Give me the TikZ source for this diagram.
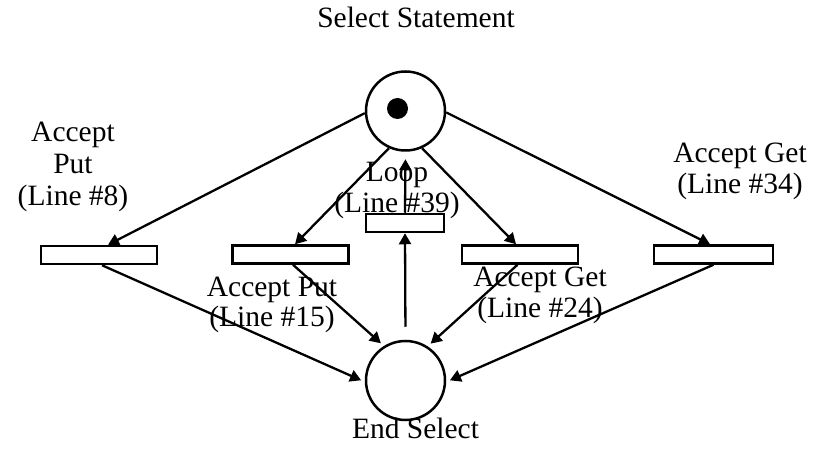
\documentclass[tikz,border=0pt]{standalone}
\usepackage{fontspec}
\setmainfont{Liberation Serif}
\usetikzlibrary{arrows.meta}
\begin{document}
\begin{tikzpicture}[x=1pt,y=-1pt,
  place/.style={draw,circle,line width=2.5pt,minimum size=79pt,inner sep=0pt},
  trans/.style={draw,rectangle,line width=2.5pt,minimum width=116pt,minimum height=18pt,inner sep=0pt},
  token/.style={fill=black,circle,minimum size=21pt,inner sep=0pt},
  arc/.style={line width=2.3pt,-{Triangle[length=11pt,width=12pt]}},
  lbl/.style={font=\fontsize{29.5}{31}\selectfont,align=center,inner sep=0pt,anchor=base}]
\path[use as bounding box] (0,0) rectangle (817,454);

\node[place] (P1) at (405.5,111) {};
\node[token] (tok) at (397.5,108.5) {};
\node[place] (P2) at (405.5,380.5) {};

\node[trans] (T1) at (99,255) {};
\node[trans] (T2) at (290.5,254.5) {};
\node[trans,minimum width=78pt] (T3) at (405,223) {};
\node[trans] (T4) at (520,254.5) {};
\node[trans,minimum width=119pt] (T5) at (713.5,254.5) {};

\draw[arc] (P1.183) -- ([xshift=9pt]T1.north);
\draw[arc] (P1.-114) -- ([xshift=4.5pt]T2.north);
\draw[arc] (P1.-66) -- ([xshift=-4pt]T4.north);
\draw[arc] (P1.-2) -- ([xshift=-3.5pt]T5.north);

\draw[arc,shorten >=4pt] ([xshift=3pt]T1.south) -- (P2.182);
\draw[arc,shorten >=4pt] ([xshift=2.5pt]T2.south) -- (P2.122);
\draw[arc,shorten >=4pt] ([xshift=-2.5pt]T4.south) -- (P2.57);
\draw[arc,shorten >=4pt] (T5.south) -- (P2.-2);

\draw[arc,shorten <=13pt] (P2.90) -- (T3.south);
\draw[arc,shorten >=7.5pt] (T3.north) -- (P1.-90);

\node[lbl] (lsel) at (416,28) {Select Statement};
\node[lbl] (lend) at (415.5,438) {End Select};
\node[lbl,font=\fontsize{29.5}{32}\selectfont] (l8) at (73,206) {Accept\\Put\\(Line \#8)};
\node[lbl] (l34) at (740,194) {Accept Get\\(Line \#34)};
\node[lbl] (l15) at (272,327) {Accept Put\\(Line \#15)};
\node[lbl] (l24) at (540,318) {Accept Get\\(Line \#24)};
\node[lbl] (l39) at (397,213) {Loop\\(Line \#39)};
\end{tikzpicture}
\end{document}
